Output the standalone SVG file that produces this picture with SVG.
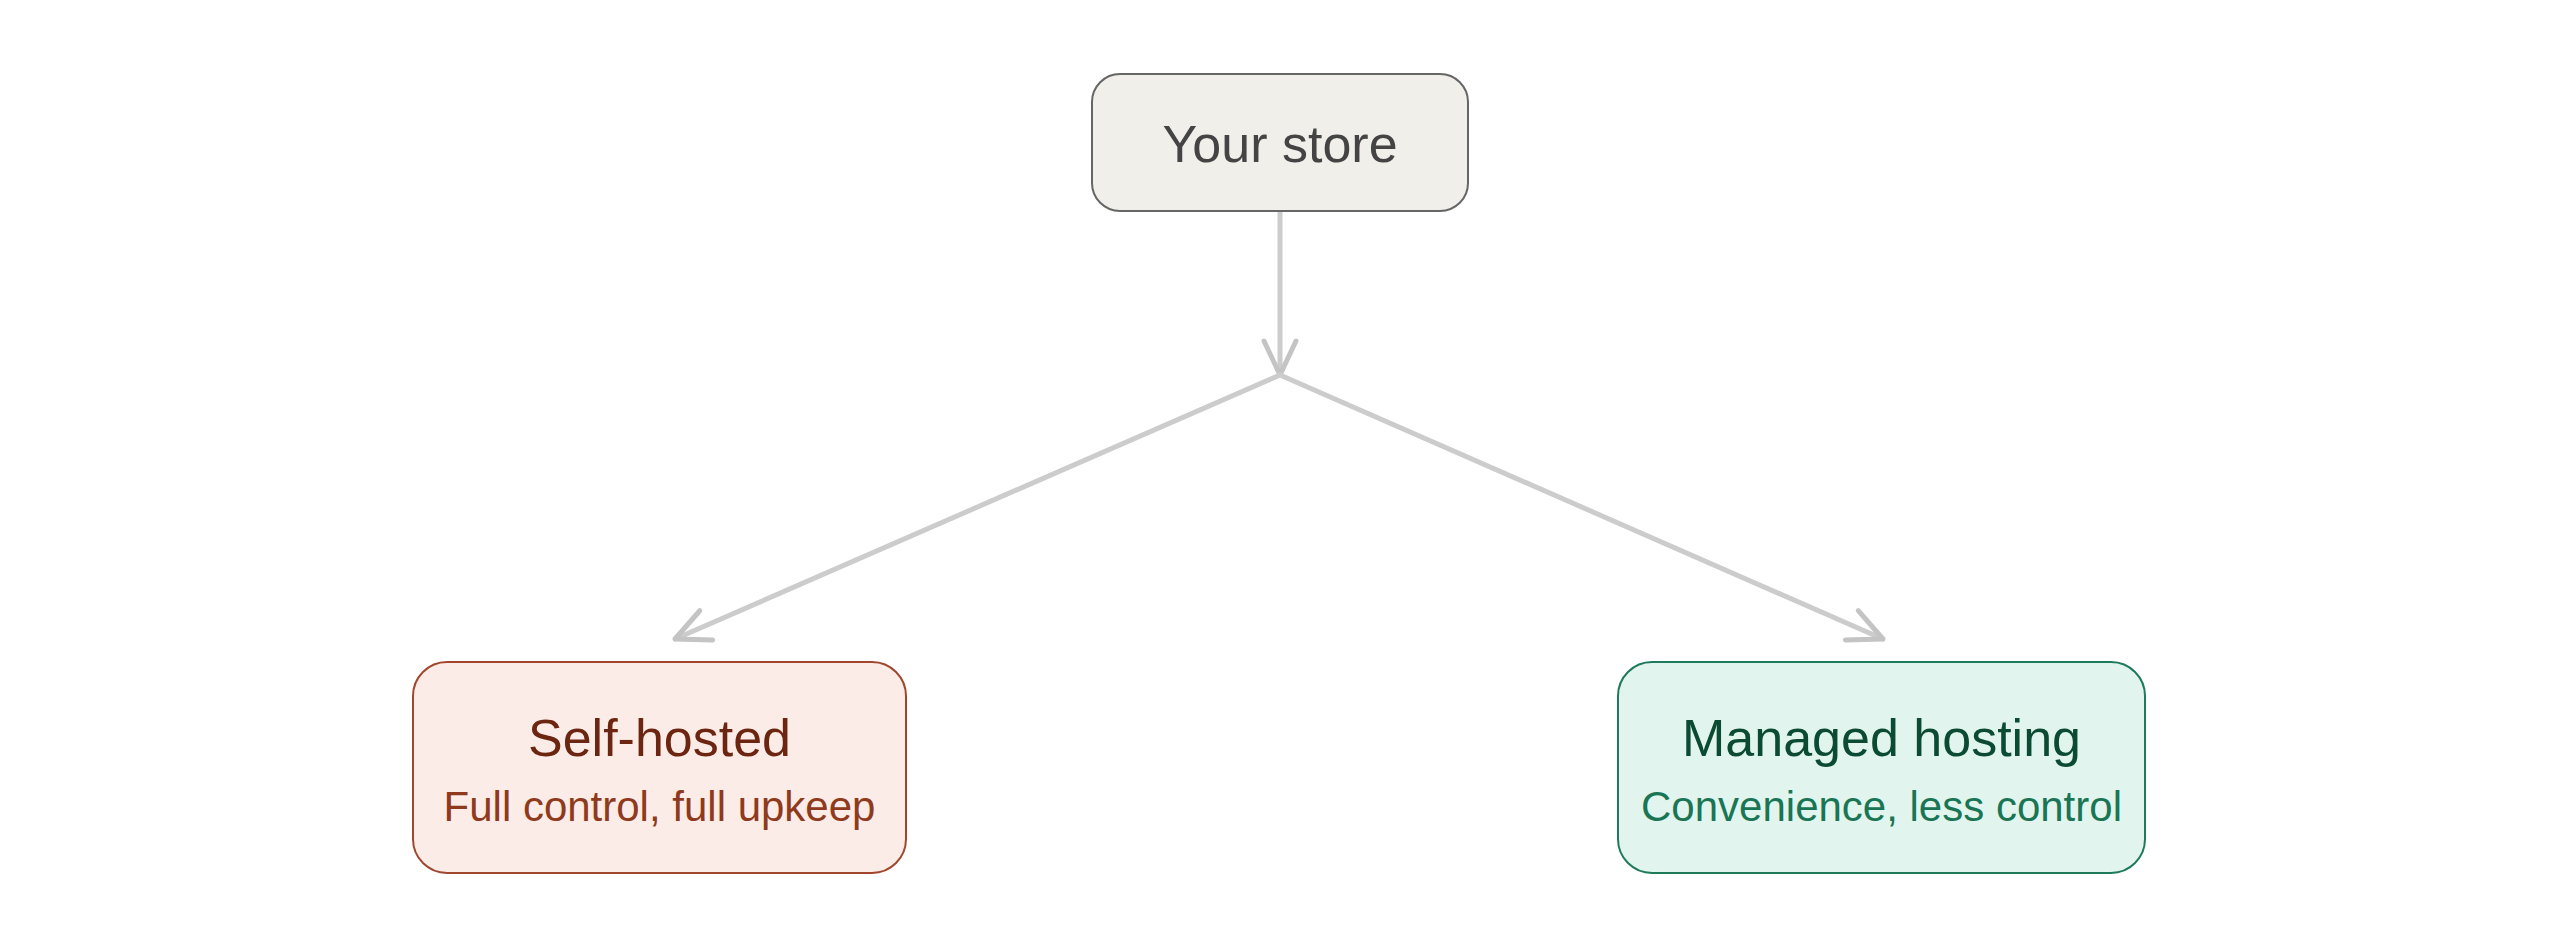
<svg xmlns="http://www.w3.org/2000/svg" width="2560" height="939" viewBox="0 0 2560 939">
<style>
text{font-family:"Liberation Sans",Arial,sans-serif;text-anchor:middle}
.c{fill:none;stroke:#cccccc;stroke-width:5;stroke-linecap:round}
.t{font-size:52px}
.s{font-size:42px}
</style>
<defs>
<marker id="a" viewBox="0 0 20 20" refX="18" refY="10" markerWidth="20" markerHeight="20" markerUnits="userSpaceOnUse" orient="auto">
<path d="M2,2 L18,10 L2,18" fill="none" stroke="#c4c4c4" stroke-width="3" stroke-linecap="round" stroke-linejoin="round"/>
</marker>
<marker id="b" viewBox="0 0 40 40" refX="38" refY="20" markerWidth="40" markerHeight="40" markerUnits="userSpaceOnUse" orient="auto">
<path d="M4,4 L38,20 L4,36" fill="none" stroke="#c4c4c4" stroke-width="5" stroke-linecap="round" stroke-linejoin="round"/>
</marker>
</defs>
<rect width="2560" height="939" fill="#ffffff"/>
<g id="connectors">
<path class="c" d="M1280,211 L1280,375" marker-end="url(#b)"/>
<path class="c" d="M1280,375 L675,639" marker-end="url(#b)"/>
<path class="c" d="M1280,375 L1883,639" marker-end="url(#b)"/>
</g>
<g id="store">
<rect x="1092" y="74" width="376" height="137" rx="28" fill="#f0efea" stroke="#666666" stroke-width="2"/>
<text class="t" x="1280" y="162" fill="#444444">Your store</text>
</g>
<g id="self-hosted">
<rect x="413" y="662" width="493" height="211" rx="34" fill="#fbece7" stroke="#a0472e" stroke-width="2"/>
<text class="t" x="659.5" y="756" fill="#6b2510">Self-hosted</text>
<text class="s" x="659.5" y="821" fill="#8f3a1c">Full control, full upkeep</text>
</g>
<g id="managed">
<rect x="1618" y="662" width="527" height="211" rx="34" fill="#e1f5ee" stroke="#1f7a5a" stroke-width="2"/>
<text class="t" x="1881.5" y="756" fill="#0b4a33">Managed hosting</text>
<text class="s" x="1881.5" y="821" fill="#1a7555">Convenience, less control</text>
</g>
</svg>
